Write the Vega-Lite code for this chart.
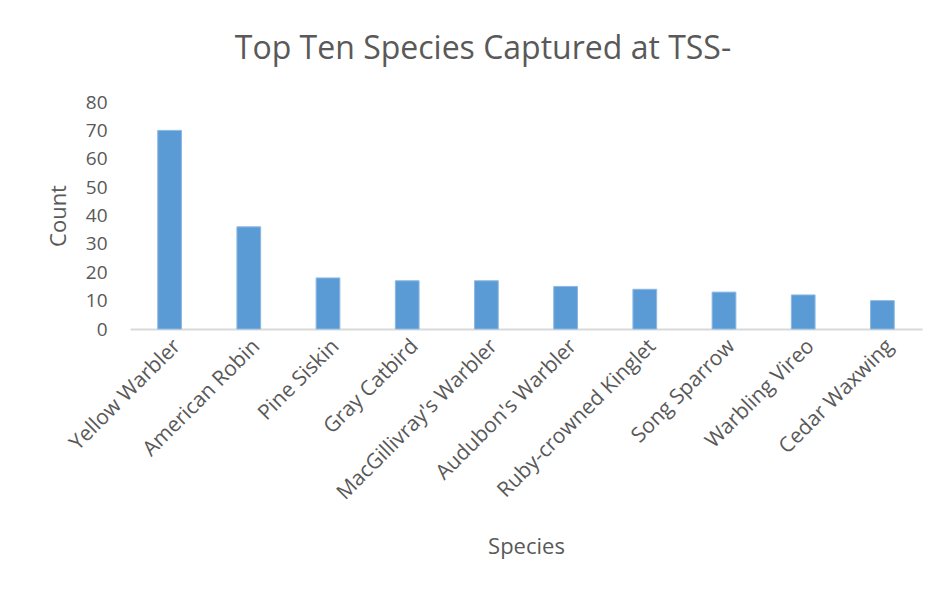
{
  "$schema": "https://vega.github.io/schema/vega-lite/v6.json",
  "autosize": {"type": "none"},
  "width": 792,
  "height": 227,
  "padding": {"left": 130, "top": 102, "right": 18, "bottom": 263},
  "background": "white",
  "title": {
    "text": "Top Ten Species Captured at TSS-",
    "font": "Open Sans",
    "fontSize": 32,
    "fontWeight": "normal",
    "color": "#595959",
    "anchor": "middle",
    "frame": "group",
    "dx": -43,
    "offset": 27
  },
  "data": {
    "values": [
      {"species": "Yellow Warbler", "count": 70},
      {"species": "American Robin", "count": 36},
      {"species": "Pine Siskin", "count": 18},
      {"species": "Gray Catbird", "count": 17},
      {"species": "MacGillivray's Warbler", "count": 17},
      {"species": "Audubon's Warbler", "count": 15},
      {"species": "Ruby-crowned Kinglet", "count": 14},
      {"species": "Song Sparrow", "count": 13},
      {"species": "Warbling Vireo", "count": 12},
      {"species": "Cedar Waxwing", "count": 10}
    ]
  },
  "mark": {"type": "bar", "color": "#5B9BD5", "stroke": "#8DB9E3", "strokeWidth": 1},
  "encoding": {
    "x": {
      "field": "species",
      "type": "nominal",
      "sort": null,
      "scale": {"paddingInner": 0.7, "paddingOuter": 0.35},
      "axis": {
        "title": "Species",
        "titleFont": "Open Sans",
        "titleFontSize": 22,
        "titleFontWeight": "normal",
        "titleColor": "#595959",
        "titlePadding": 34,
        "labelFont": "Open Sans",
        "labelFontSize": 21,
        "labelColor": "#595959",
        "labelAngle": -45,
        "labelPadding": 6,
        "labelLimit": 300,
        "ticks": false,
        "domainColor": "#D9D9D9",
        "domainWidth": 2,
        "grid": false
      }
    },
    "y": {
      "field": "count",
      "type": "quantitative",
      "scale": {"domain": [0, 80]},
      "axis": {
        "title": "Count",
        "titleFont": "Open Sans",
        "titleFontSize": 22,
        "titleFontWeight": "normal",
        "titleColor": "#595959",
        "titlePadding": 15,
        "labelFont": "Open Sans",
        "labelFontSize": 19,
        "labelColor": "#595959",
        "labelPadding": 23,
        "values": [0, 10, 20, 30, 40, 50, 60, 70, 80],
        "ticks": false,
        "domain": false,
        "grid": false
      }
    }
  },
  "config": {"view": {"stroke": null}}
}
